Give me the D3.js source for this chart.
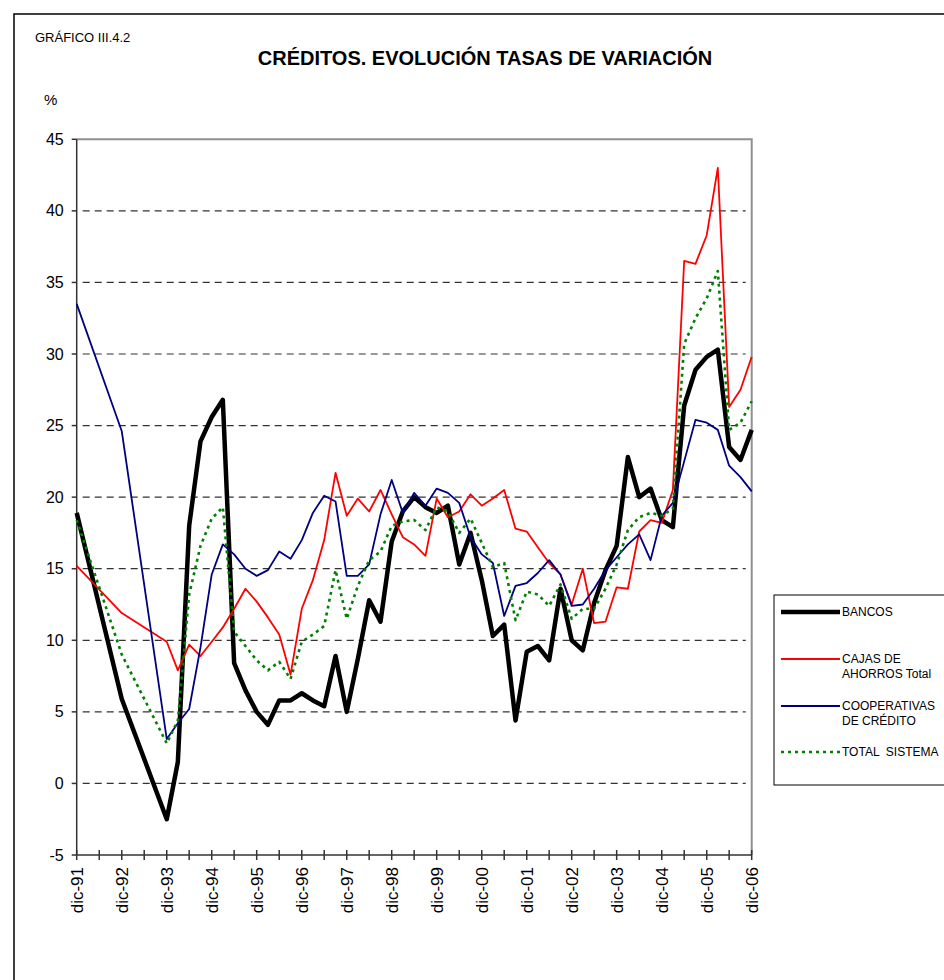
<!DOCTYPE html>
<html>
<head>
<meta charset="utf-8">
<script src="https://cdn.jsdelivr.net/npm/d3@7"></script>
<style>
  body { margin: 0; background: #fff; }
  text { font-family: "Liberation Sans", Arial, sans-serif; fill: #000; }
</style>
</head>
<body>
<script>
// periods: annual until dic-93, quarterly afterwards
const periods = [
  '1991-12', '1992-12', '1993-12',
  '1994-03', '1994-06', '1994-09', '1994-12',
  '1995-03', '1995-06', '1995-09', '1995-12',
  '1996-03', '1996-06', '1996-09', '1996-12',
  '1997-03', '1997-06', '1997-09', '1997-12',
  '1998-03', '1998-06', '1998-09', '1998-12',
  '1999-03', '1999-06', '1999-09', '1999-12',
  '2000-03', '2000-06', '2000-09', '2000-12',
  '2001-03', '2001-06', '2001-09', '2001-12',
  '2002-03', '2002-06', '2002-09', '2002-12',
  '2003-03', '2003-06', '2003-09', '2003-12',
  '2004-03', '2004-06', '2004-09', '2004-12',
  '2005-03', '2005-06', '2005-09', '2005-12',
  '2006-03', '2006-06', '2006-09', '2006-12',
];

const bancos = [
  18.9, 5.9, -2.5,
  1.5, 18.0, 23.9, 25.6,
  26.8, 8.4, 6.5, 5.0,
  4.1, 5.8, 5.8, 6.3,
  5.8, 5.4, 8.9, 5.0,
  8.7, 12.8, 11.3, 16.9,
  19.0, 20.0, 19.3, 18.9,
  19.4, 15.3, 17.5, 14.2,
  10.3, 11.1, 4.4, 9.2,
  9.6, 8.6, 13.6, 10.0,
  9.3, 12.6, 14.9, 16.6,
  22.8, 20.0, 20.6, 18.4,
  17.9, 26.4, 28.9, 29.8,
  30.3, 23.5, 22.6, 24.7,
];

const cajas = [
  15.2, 11.9, 9.9,
  7.9, 9.7, 8.9, 9.9,
  10.9, 12.2, 13.6, 12.7,
  11.6, 10.4, 7.6, 12.2,
  14.2, 17.0, 21.7, 18.7,
  19.9, 19.0, 20.5, 18.8,
  17.2, 16.7, 15.9, 19.9,
  18.6, 19.0, 20.2, 19.4,
  19.9, 20.5, 17.8, 17.6,
  16.5, 15.4, 14.6, 12.5,
  15.0, 11.2, 11.3, 13.7,
  13.6, 17.6, 18.4, 18.2,
  20.5, 36.5, 36.3, 38.3,
  43.0, 26.3, 27.5, 29.8,
];

const cooperativas = [
  33.5, 24.6, 3.1,
  4.2, 5.2, 9.5, 14.6,
  16.7, 16.0, 15.0, 14.5,
  14.9, 16.2, 15.7, 17.0,
  18.9, 20.1, 19.7, 14.5,
  14.5, 15.3, 18.8, 21.2,
  18.9, 20.3, 19.4, 20.6,
  20.3, 19.6, 17.2, 16.0,
  15.4, 11.7, 13.8, 14.0,
  14.7, 15.6, 14.6, 12.4,
  12.5, 13.6, 14.9, 15.8,
  16.7, 17.4, 15.6, 18.7,
  19.6, 22.5, 25.4, 25.2,
  24.7, 22.2, 21.4, 20.4,
];

const totalSistema = [
  18.4, 9.0, 2.8,
  4.4, 13.2, 16.6, 18.5,
  19.3, 10.6, 9.6, 8.6,
  7.9, 8.5, 7.3, 9.9,
  10.4, 11.0, 14.9, 11.5,
  13.8, 15.6, 16.2, 18.0,
  18.3, 18.4, 17.7, 19.3,
  19.0, 17.5, 18.5, 16.8,
  15.1, 15.4, 11.4, 13.4,
  13.2, 12.4, 13.9, 11.5,
  12.2, 12.2, 13.6, 15.3,
  17.7, 18.6, 18.9, 18.7,
  19.2, 30.7, 32.5, 33.9,
  35.8, 24.7, 25.2, 26.7,
];

const yTicks = [-5, 0, 5, 10, 15, 20, 25, 30, 35, 40, 45];
const xTickLabels = [
  'dic-91', 'dic-92', 'dic-93', 'dic-94', 'dic-95', 'dic-96', 'dic-97', 'dic-98',
  'dic-99', 'dic-00', 'dic-01', 'dic-02', 'dic-03', 'dic-04', 'dic-05', 'dic-06',
];

const series = [
  { name: ['BANCOS'], values: bancos, color: '#000', width: 4.5, dash: null },
  { name: ['CAJAS DE', 'AHORROS Total'], values: cajas, color: '#ff0000', width: 1.8, dash: null },
  { name: ['COOPERATIVAS', 'DE CRÉDITO'], values: cooperativas, color: '#000080', width: 1.8, dash: null },
  { name: ['TOTAL  SISTEMA'], values: totalSistema, color: '#008000', width: 2.6, dash: '3,4' },
];

const parse = d3.timeParse('%Y-%m');
const dates = periods.map(parse);

const svg = d3.select('body').append('svg')
  .attr('width', 944)
  .attr('height', 980);

// outer frame
svg.append('rect')
  .attr('x', 14).attr('y', 14)
  .attr('width', 1000).attr('height', 1000)
  .attr('fill', 'none').attr('stroke', '#000').attr('stroke-width', 1.5);

svg.append('text').attr('x', 35).attr('y', 42)
  .style('font-size', '13px').text('GRÁFICO III.4.2');
svg.append('text').attr('x', 485).attr('y', 65)
  .attr('text-anchor', 'middle')
  .style('font-size', '20px').style('font-weight', 'bold')
  .text('CRÉDITOS. EVOLUCIÓN TASAS DE VARIACIÓN');
svg.append('text').attr('x', 44).attr('y', 105)
  .style('font-size', '15px').text('%');

const x = d3.scaleTime()
  .domain([dates[0], dates[dates.length - 1]])
  .range([76.7, 751.7]);
const y = d3.scaleLinear()
  .domain([-5, 45])
  .range([855, 139.3]);

const [x0, x1] = x.range();

// dashed gridlines
svg.append('g')
  .selectAll('line')
  .data(yTicks.filter((v) => v > -5 && v < 45))
  .join('line')
  .attr('x1', x0 + 6).attr('x2', x1 - 6)
  .attr('y1', (d) => y(d)).attr('y2', (d) => y(d))
  .attr('stroke', '#333').attr('stroke-width', 1.2)
  .attr('stroke-dasharray', '7,5');

// top and right border of the plot area
svg.append('path')
  .attr('d', `M${x0},${y(45)}H${x1}V${y(-5)}`)
  .attr('fill', 'none').attr('stroke', '#909090').attr('stroke-width', 2);

// y axis
const yAxis = svg.append('g');
yAxis.append('line')
  .attr('x1', x0).attr('x2', x0).attr('y1', y(45)).attr('y2', y(-5))
  .attr('stroke', '#333').attr('stroke-width', 1.5);
yAxis.selectAll('.tick')
  .data(yTicks)
  .join('line')
  .attr('x1', x0 - 5).attr('x2', x0)
  .attr('y1', (d) => y(d)).attr('y2', (d) => y(d))
  .attr('stroke', '#333').attr('stroke-width', 1.5);
yAxis.selectAll('text')
  .data(yTicks)
  .join('text')
  .attr('x', x0 - 13).attr('y', (d) => y(d))
  .attr('dy', '0.35em').attr('text-anchor', 'end')
  .style('font-size', '16px')
  .text((d) => d);

// x axis, ticks every six months, labels every December
const months = d3.timeMonth.range(x.domain()[0], d3.timeMonth.offset(x.domain()[1], 1));
const halfYears = months.filter((d, i) => i % 6 === 0);
const decembers = halfYears.filter((d) => d.getMonth() === 11);
const xAxis = svg.append('g');
xAxis.append('line')
  .attr('x1', x0).attr('x2', x1).attr('y1', y(-5)).attr('y2', y(-5))
  .attr('stroke', '#333').attr('stroke-width', 1.5);
xAxis.selectAll('.tick')
  .data(halfYears)
  .join('line')
  .attr('x1', (d) => x(d)).attr('x2', (d) => x(d))
  .attr('y1', y(-5) - 5).attr('y2', y(-5) + 5)
  .attr('stroke', '#333').attr('stroke-width', 1.5);
xAxis.selectAll('text')
  .data(decembers)
  .join('text')
  .attr('transform', (d) => `translate(${x(d)},867) rotate(-90)`)
  .attr('dy', '0.35em').attr('text-anchor', 'end')
  .style('font-size', '17px')
  .text((d, i) => xTickLabels[i]);

// series lines
const line = d3.line()
  .x((d, i) => x(dates[i]))
  .y((d) => y(d));

svg.append('g')
  .selectAll('path')
  .data(series)
  .join('path')
  .attr('d', (s) => line(s.values))
  .attr('fill', 'none')
  .attr('stroke', (s) => s.color)
  .attr('stroke-width', (s) => s.width)
  .attr('stroke-dasharray', (s) => s.dash)
  .attr('stroke-linejoin', 'round');

// legend
const legend = svg.append('g');
legend.append('rect')
  .attr('x', 774).attr('y', 595)
  .attr('width', 200).attr('height', 190)
  .attr('fill', '#fff').attr('stroke', '#000').attr('stroke-width', 1);
const legendY = [612, 659, 706, 752];
series.forEach((s, i) => {
  const ly = legendY[i];
  legend.append('line')
    .attr('x1', 781).attr('x2', 840).attr('y1', ly).attr('y2', ly)
    .attr('stroke', s.color)
    .attr('stroke-width', s.width)
    .attr('stroke-dasharray', s.dash);
  s.name.forEach((t, j) => {
    legend.append('text')
      .attr('x', 842).attr('y', ly + j * 15)
      .attr('dy', '0.35em')
      .style('font-size', '12px')
      .style('white-space', 'pre')
      .text(t);
  });
});
</script>
</body>
</html>
